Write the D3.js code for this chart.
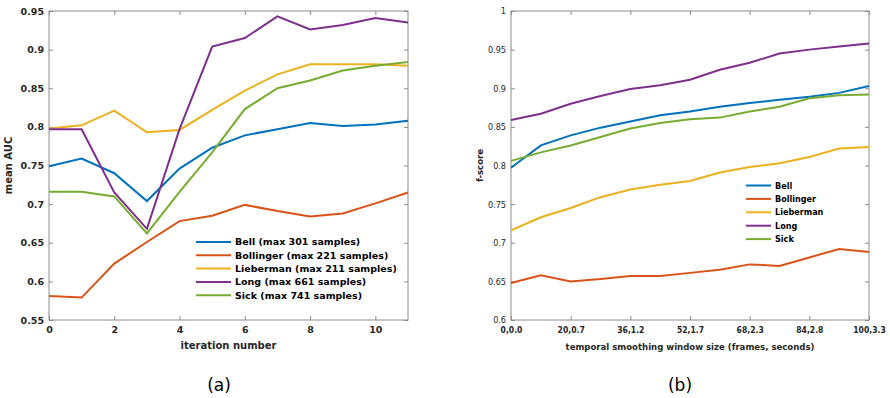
<!DOCTYPE html>
<html><head><meta charset="utf-8">
<script src="https://cdn.jsdelivr.net/npm/d3@7"></script>
<style>body{margin:0;background:#fff}svg{display:block}</style>
</head><body>
<svg id="c" width="890" height="398"></svg>
<script>
const colors = ["#0072BD","#D95319","#EDB120","#7E2F8E","#77AC30"];
// Chart (a)
const iterations = [0,1,2,3,4,5,6,7,8,9,10,11];
const seriesA = ["Bell (max 301 samples)","Bollinger (max 221 samples)","Lieberman (max 211 samples)","Long (max 661 samples)","Sick (max 741 samples)"];
const bellA      = [0.749,0.759,0.740,0.704,0.746,0.773,0.789,0.797,0.805,0.801,0.803,0.808];
const bollingerA = [0.581,0.579,0.623,0.651,0.678,0.685,0.699,0.691,0.684,0.688,0.701,0.715];
const liebermanA = [0.798,0.802,0.821,0.793,0.796,0.822,0.847,0.868,0.881,0.881,0.881,0.879];
const longA      = [0.797,0.797,0.715,0.668,0.797,0.904,0.915,0.943,0.926,0.932,0.941,0.935];
const sickA      = [0.716,0.716,0.710,0.662,0.716,0.767,0.823,0.850,0.860,0.873,0.879,0.884];
const yTicksA = [0.55,0.6,0.65,0.7,0.75,0.8,0.85,0.9,0.95];
const xTicksA = [0,2,4,6,8,10];
// Chart (b)
const windowIdx = [0,1,2,3,4,5,6,7,8,9,10,11,12];
const xTickLabelsB = ["0,0.0","20,0.7","36,1.2","52,1.7","68,2.3","84,2.8","100,3.3"];
const seriesB = ["Bell","Bollinger","Lieberman","Long","Sick"];
const bellB      = [0.797,0.826,0.839,0.849,0.857,0.865,0.870,0.876,0.881,0.885,0.889,0.894,0.903];
const bollingerB = [0.648,0.658,0.650,0.653,0.657,0.657,0.661,0.665,0.672,0.670,0.681,0.692,0.688];
const liebermanB = [0.716,0.733,0.745,0.759,0.769,0.775,0.780,0.791,0.798,0.803,0.811,0.822,0.824];
const longB      = [0.859,0.867,0.880,0.890,0.899,0.904,0.911,0.924,0.933,0.945,0.950,0.954,0.958];
const sickB      = [0.806,0.817,0.826,0.837,0.848,0.855,0.860,0.862,0.870,0.876,0.887,0.891,0.892];
const yTicksB = [0.6,0.65,0.7,0.75,0.8,0.85,0.9,0.95,1];

const svg = d3.select("#c");
const axisCol = "#8c8c8c", textCol = "#262626";

function fmt(v){ return String(+v.toFixed(2)); }

function drawPanel(o){
  const g = svg.append("g");
  const x = d3.scaleLinear().domain(o.xDomain).range([o.left,o.right]);
  const y = d3.scaleLinear().domain(o.yDomain).range([o.bottom,o.top]);
  const tl = 4;
  g.append("rect").attr("x",o.left).attr("y",o.top).attr("width",o.right-o.left).attr("height",o.bottom-o.top)
    .attr("fill","none").attr("stroke",axisCol).attr("stroke-width",1);
  const axB = g.append("g").attr("transform",`translate(0,${o.bottom})`)
    .call(d3.axisBottom(x).tickValues(o.xTicks).tickSize(-tl).tickPadding(o.xPad).tickFormat(o.xFmt));
  const axT = g.append("g").attr("transform",`translate(0,${o.top})`)
    .call(d3.axisTop(x).tickValues(o.xTicks).tickSize(-tl).tickFormat(""));
  const axL = g.append("g").attr("transform",`translate(${o.left},0)`)
    .call(d3.axisLeft(y).tickValues(o.yTicks).tickSize(-tl).tickPadding(o.yPad).tickFormat(fmt));
  const axR = g.append("g").attr("transform",`translate(${o.right},0)`)
    .call(d3.axisRight(y).tickValues(o.yTicks).tickSize(-tl).tickFormat(""));
  [axB,axT,axL,axR].forEach(a=>{
    a.select(".domain").remove();
    a.selectAll(".tick line").attr("stroke",axisCol);
  });
  axB.selectAll("text").attr("fill",textCol).style("font-family",o.font).style("font-size",o.xFs+"px").style("font-weight",o.xW);
  axL.selectAll("text").attr("fill",textCol).style("font-family",o.font).style("font-size",o.yFs+"px").style("font-weight",o.yW);
  const line = d3.line().x((d,i)=>x(o.xs[i])).y(d=>y(d));
  o.data.forEach((s,k)=>{
    g.append("path").attr("d",line(s)).attr("fill","none").attr("stroke",colors[k])
      .attr("stroke-width",2).attr("stroke-linejoin","miter");
  });
  g.append("text").attr("x",(o.left+o.right)/2).attr("y",o.xLabY).attr("text-anchor","middle")
    .attr("fill",textCol).style("font-family",o.font).style("font-weight","bold").style("font-size",o.labFs+"px").text(o.xLabel);
  g.append("text").attr("transform",`translate(${o.yLabX},${(o.top+o.bottom)/2}) rotate(-90)`).attr("text-anchor","middle")
    .attr("fill",textCol).style("font-family",o.font).style("font-weight","bold").style("font-size",o.labFs+"px").text(o.yLabel);
  o.names.forEach((n,k)=>{
    const yy = o.legY + k*o.legStep;
    g.append("line").attr("x1",o.legX1).attr("x2",o.legX2).attr("y1",yy).attr("y2",yy)
      .attr("stroke",colors[k]).attr("stroke-width",2);
    g.append("text").attr("x",o.legX2+4).attr("y",yy).attr("dy","0.35em").attr("fill","#000")
      .style("font-family",o.font).style("font-weight","bold").style("font-size",o.legFs+"px").text(n);
  });
  svg.append("text").attr("x",o.capX).attr("y",391).attr("text-anchor","middle").attr("fill","#000")
    .style("font-family","'DejaVu Sans', sans-serif").style("font-size","17px").text(o.caption);
}

drawPanel({
  left:49,right:408,top:11,bottom:320,
  xDomain:[0,11], yDomain:[0.55,0.95], xs:iterations,
  xTicks:xTicksA, yTicks:yTicksA, xFmt:d=>d, xPad:6, yPad:5,
  font:"'DejaVu Sans', sans-serif", xFs:9.5, yFs:9.5, xW:"bold", yW:"bold",
  data:[bellA,bollingerA,liebermanA,longA,sickA], names:seriesA,
  xLabel:"iteration number", yLabel:"mean AUC", xLabY:349, yLabX:12, labFs:10,
  legX1:196, legX2:231, legY:242, legStep:13.3, legFs:9.5,
  caption:"(a)", capX:219
});

drawPanel({
  left:511,right:869,top:11,bottom:320,
  xDomain:[0,12], yDomain:[0.6,1], xs:windowIdx,
  xTicks:[0,2,4,6,8,10,12], yTicks:yTicksB, xFmt:(d,i)=>xTickLabelsB[i], xPad:7, yPad:5,
  font:"'DejaVu Sans Condensed', 'DejaVu Sans', sans-serif", xFs:8.5, yFs:9, xW:"600", yW:"normal",
  data:[bellB,bollingerB,liebermanB,longB,sickB], names:seriesB,
  xLabel:"temporal smoothing window size (frames, seconds)", yLabel:"f-score", xLabY:350, yLabX:483, labFs:9.5,
  legX1:746, legX2:771, legY:185.5, legStep:13.4, legFs:9,
  caption:"(b)", capX:680
});
</script>
</body></html>
